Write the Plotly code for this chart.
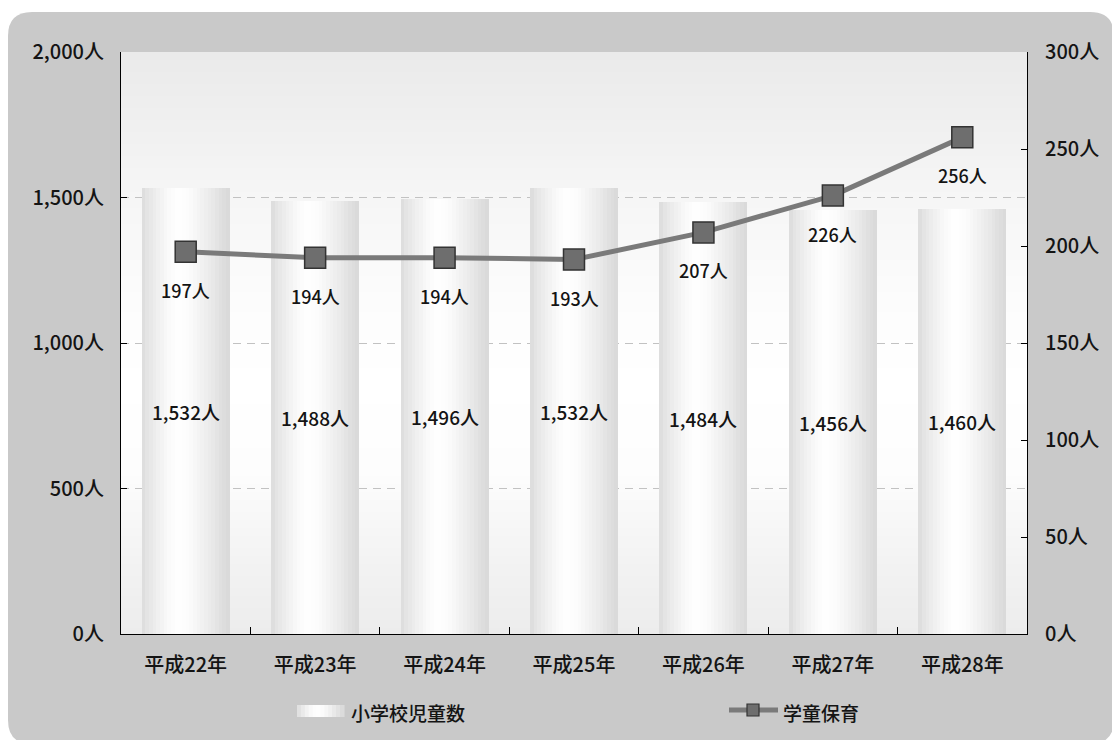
import plotly.graph_objects as go

# ---- data ----
years = ["平成22年", "平成23年", "平成24年", "平成25年", "平成26年", "平成27年", "平成28年"]
pupils = [1532, 1488, 1496, 1532, 1484, 1456, 1460]      # 小学校児童数
afterschool = [197, 194, 194, 193, 207, 226, 256]         # 学童保育
left_ticks = [0, 500, 1000, 1500, 2000]
right_ticks = [0, 50, 100, 150, 200, 250, 300]

# ---- canvas / plot-area geometry (px) ----
W, H = 1112, 740
ML, MR, MT, MB = 121, 85, 52, 106
PW, PH = W - ML - MR, H - MT - MB
FONT = "Noto Sans CJK JP"
TXT = "#141414"


def px_x(p):
    return (p - ML) / PW


def px_y(p):
    return (H - MB - p) / PH


def gray(v):
    v = max(0, min(255, int(round(v))))
    return f"rgb({v},{v},{v})"


def interp(stops, t):
    for (t0, v0), (t1, v1) in zip(stops, stops[1:]):
        if t0 <= t <= t1:
            return v0 + (v1 - v0) * (t - t0) / (t1 - t0)
    return stops[-1][1]


def font(size):
    return dict(family=FONT, size=size, color=TXT, weight=500)


fig = go.Figure()

# cylinder-like bars: each bar is built from thin vertical slices with a
# horizontal light/dark profile
BAR_W = 0.68
N = 24
bar_profile = [(0, 220), (0.1, 232), (0.28, 248), (0.42, 255), (0.55, 251),
               (0.75, 237), (0.9, 224), (1.0, 216)]
sw = BAR_W / N
for i in range(N):
    t = (i + 0.5) / N
    width = sw * 1.35 if i < N - 1 else sw
    fig.add_trace(go.Bar(
        x=years, y=pupils, yaxis="y",
        offset=-BAR_W / 2 + i * sw, width=width,
        marker=dict(color=gray(interp(bar_profile, t)), line=dict(width=0)),
        showlegend=False, hoverinfo="skip", name="小学校児童数",
    ))

# value labels in the middle of each bar
fig.add_trace(go.Bar(
    x=years, y=pupils, yaxis="y", width=BAR_W, offset=-BAR_W / 2,
    marker=dict(color="rgba(0,0,0,0)", line=dict(width=0)),
    text=[f"{v:,}人" for v in pupils], textposition="inside",
    insidetextanchor="middle", textangle=0, constraintext="none",
    textfont=font(19),
    showlegend=False, name="小学校児童数",
    hovertemplate="%{x}<br>%{y:,}人<extra></extra>",
))

# after-school care line on the right axis
fig.add_trace(go.Scatter(
    x=years, y=afterschool, yaxis="y2", mode="lines+markers",
    line=dict(color="#7a7a7a", width=5),
    marker=dict(symbol="square", size=21, color="#6e6e6e",
                line=dict(color="#333333", width=1.5)),
    showlegend=False, name="学童保育",
    hovertemplate="%{x}<br>%{y}人<extra></extra>",
))

annotations = []
for yr, v in zip(years, afterschool):
    annotations.append(dict(
        x=yr, y=v, xref="x", yref="y2", yshift=-38, showarrow=False,
        text=f"{v}人", font=font(18),
    ))

shapes = []
# rounded grey panel behind everything
x0, x1 = px_x(8), px_x(1114)
y0, y1 = px_y(744), px_y(12)
rx, ry = 24 / PW, 24 / PH
panel = (f"M {x0 + rx},{y1} L {x1 - rx},{y1} Q {x1},{y1} {x1},{y1 - ry} "
         f"L {x1},{y0 + ry} Q {x1},{y0} {x1 - rx},{y0} L {x0 + rx},{y0} "
         f"Q {x0},{y0} {x0},{y0 + ry} L {x0},{y1 - ry} Q {x0},{y1} {x0 + rx},{y1} Z")
shapes.append(dict(type="path", path=panel, xref="paper", yref="paper",
                   fillcolor="#c9c9c9", line=dict(width=0), layer="below"))

# vertical gradient in the plot area
bg_profile = [(MT, 234), (200, 246), (300, 252), (380, 255), (470, 253),
              (560, 243), (H - MB, 236)]
step = 4
p = MT
while p < H - MB:
    q = min(p + step, H - MB)
    shapes.append(dict(type="rect", xref="paper", yref="paper",
                       x0=0, x1=1, y0=px_y(q + 0.5), y1=px_y(p),
                       fillcolor=gray(interp(bg_profile, (p + q) / 2)),
                       line=dict(width=0), layer="below"))
    p = q

# legend: gradient swatch for the bars
LX0, LX1, LYT, LYB = 297, 344, 705, 717
M = 12
for i in range(M):
    a = LX0 + (LX1 - LX0) * i / M
    b = LX0 + (LX1 - LX0) * (i + 1) / M
    t = (i + 0.5) / M
    shapes.append(dict(type="rect", xref="paper", yref="paper",
                       x0=px_x(a), x1=px_x(b + 0.6), y0=px_y(LYB), y1=px_y(LYT),
                       fillcolor=gray(interp(bar_profile, t)), line=dict(width=0)))
annotations.append(dict(x=px_x(349), y=px_y(712), xref="paper", yref="paper",
                        xanchor="left", yanchor="middle", showarrow=False,
                        text="小学校児童数", font=font(19)))
# legend: line with square marker
shapes.append(dict(type="line", xref="paper", yref="paper",
                   x0=px_x(729), x1=px_x(778), y0=px_y(710), y1=px_y(710),
                   line=dict(color="#7a7a7a", width=5)))
shapes.append(dict(type="rect", xref="paper", yref="paper",
                   x0=px_x(747), x1=px_x(759), y0=px_y(716), y1=px_y(704),
                   fillcolor="#6e6e6e", line=dict(color="#333333", width=1.2)))
annotations.append(dict(x=px_x(781), y=px_y(712), xref="paper", yref="paper",
                        xanchor="left", yanchor="middle", showarrow=False,
                        text="学童保育", font=font(19)))

tickfont = font(20)
fig.update_layout(
    width=W, height=H,
    margin=dict(l=ML, r=MR, t=MT, b=MB, pad=0),
    paper_bgcolor="white", plot_bgcolor="rgba(0,0,0,0)",
    barmode="overlay", bargap=0, showlegend=False,
    shapes=shapes, annotations=annotations,
    xaxis=dict(type="category", showline=True, linecolor="black", linewidth=1,
               ticks="inside", ticklen=7, tickcolor="black", tickson="boundaries",
               showgrid=False, tickfont=tickfont, ticklabelstandoff=13,
               range=[-0.5, 6.5]),
    yaxis=dict(range=[0, 2000], tickmode="array", tickvals=left_ticks,
               ticktext=[f"{v:,}人" for v in left_ticks],
               showline=True, linecolor="black",
               linewidth=1, ticks="inside", ticklen=6, tickcolor="black",
               showgrid=True, gridcolor="#c2c2c2", griddash="8px,6px",
               gridwidth=1, zeroline=False, tickfont=tickfont,
               ticklabelstandoff=12),
    yaxis2=dict(range=[0, 300], tickmode="array", tickvals=right_ticks,
                ticktext=[f"{v}人" for v in right_ticks], overlaying="y",
                side="right", showline=True, linecolor="black", linewidth=1,
                ticks="inside", ticklen=6, tickcolor="black", showgrid=False,
                zeroline=False, tickfont=tickfont, ticklabelstandoff=13),
)

fig.write_html("out.html")
